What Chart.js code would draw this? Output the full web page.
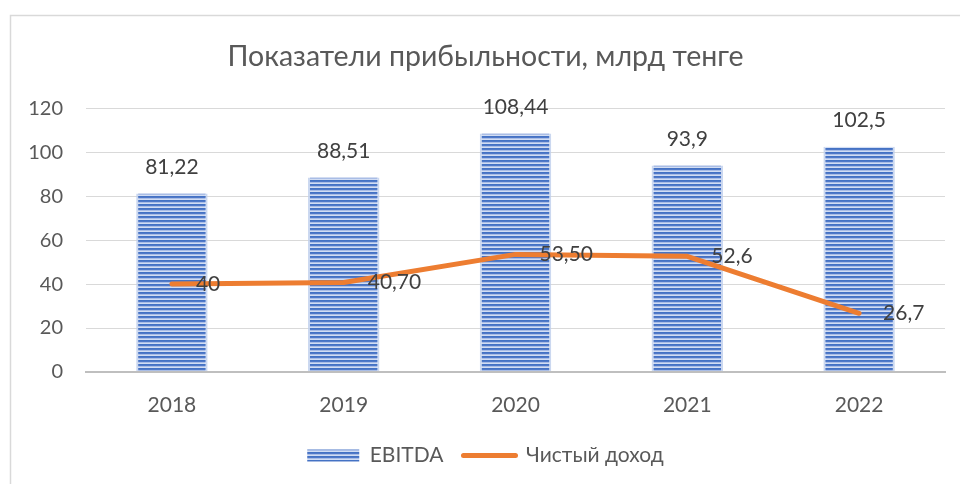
<!DOCTYPE html>
<html>
<head>
<meta charset="utf-8">
<script src="https://cdn.jsdelivr.net/npm/chart.js@4/dist/chart.umd.min.js"></script>
<style>
  html, body { margin: 0; padding: 0; background: #fff; }
  #wrap { width: 960px; height: 484px; position: relative; }
</style>
</head>
<body>
<div id="wrap"><canvas id="myChart"></canvas></div>
<script>
'use strict';

const years = ['2018', '2019', '2020', '2021', '2022'];
const ebitda = [81.22, 88.51, 108.44, 93.9, 102.5];
const ebitdaDigits = [2, 2, 2, 1, 1];
const netIncome = [40, 40.7, 53.5, 52.6, 26.7];
const netDigits = [0, 2, 2, 1, 1];
const yTicks = [0, 20, 40, 60, 80, 100, 120];

const FONT = 'Lato, "Noto Sans", sans-serif';
const ORANGE = '#ed7d31';

// horizontal stripes for the EBITDA bars
const makeStripes = () => {
	const c = document.createElement('canvas');
	c.width = 4;
	c.height = 4;
	const g = c.getContext('2d');
	['#4472c4', '#5079c8', '#a9bde6', '#d2ddf3'].forEach((col, i) => {
		g.fillStyle = col;
		g.fillRect(0, i, 4, 1);
	});
	return g.createPattern(c, 'repeat');
};
const stripes = makeStripes();

const fmt = (v, d) => v.toFixed(d).replace('.', ',');

// light frame around the whole chart + white background
const framePlugin = {
	id: 'frame',
	beforeDraw(chart) {
		const { ctx, width, height } = chart;
		ctx.save();
		ctx.fillStyle = '#fff';
		ctx.fillRect(0, 0, width, height);
		ctx.strokeStyle = '#d9d9d9';
		ctx.lineWidth = 1.5;
		ctx.strokeRect(10.5, 15.5, width + 20, height + 20);
		ctx.restore();
	},
};

// value labels: above the bars, right of the line points
const valueLabels = {
	id: 'valueLabels',
	afterDatasetsDraw(chart) {
		const { ctx } = chart;
		ctx.save();
		ctx.font = '21px ' + FONT;
		ctx.fillStyle = '#404040';
		ctx.textBaseline = 'middle';
		chart.data.datasets.forEach((ds, i) => {
			const meta = chart.getDatasetMeta(i);
			meta.data.forEach((el, j) => {
				const txt = fmt(ds.data[j], ds.digits[j]);
				if (ds.type === 'bar') {
					ctx.textAlign = 'center';
					ctx.fillText(txt, el.x, el.y - 26);
				} else {
					ctx.textAlign = 'left';
					ctx.fillText(txt, el.x + 24, el.y);
				}
			});
		});
		ctx.restore();
	},
};

const ctx = document.getElementById('myChart').getContext('2d');

const myChart = new Chart(ctx, {
	data: {
		labels: years,
		datasets: [
			{
				type: 'line',
				label: 'Чистый доход',
				data: netIncome,
				digits: netDigits,
				borderColor: ORANGE,
				backgroundColor: ORANGE,
				borderWidth: 5,
				borderCapStyle: 'round',
				borderJoinStyle: 'round',
				pointRadius: 0,
				tension: 0,
				order: 0,
			},
			{
				type: 'bar',
				label: 'EBITDA',
				data: ebitda,
				digits: ebitdaDigits,
				backgroundColor: stripes,
				borderColor: 'rgba(190, 206, 236, 0.8)',
				borderWidth: { left: 2, right: 2, top: 0, bottom: 0 },
				borderSkipped: false,
				categoryPercentage: 0.8,
				barPercentage: 0.52,
				order: 1,
			},
		],
	},
	options: {
		responsive: true,
		maintainAspectRatio: false,
		animation: false,
		layout: {
			padding: { left: 26, right: 15, top: 30, bottom: 8 },
		},
		plugins: {
			title: {
				display: true,
				text: 'Показатели прибыльности, млрд тенге',
				color: '#595959',
				font: { family: FONT, size: 28.5, weight: 'normal' },
				padding: { top: 10, bottom: 34 },
			},
			legend: {
				position: 'bottom',
				labels: {
					usePointStyle: true,
					pointStyleWidth: 52,
					boxHeight: 12,
					padding: 20,
					color: '#595959',
					font: { family: FONT, size: 21 },
					sort: (a, b) => b.datasetIndex - a.datasetIndex,
					generateLabels(chart) {
						return chart.data.datasets.map((ds, i) => ({
							text: ds.label,
							datasetIndex: i,
							fillStyle: ds.type === 'bar' ? stripes : ORANGE,
							strokeStyle: ds.type === 'bar' ? stripes : ORANGE,
							lineWidth: ds.type === 'bar' ? 0 : 5,
							lineCap: 'round',
							pointStyle: ds.type === 'bar' ? 'rect' : 'line',
							fontColor: '#595959',
							hidden: false,
						}));
					},
				},
			},
			tooltip: { enabled: false },
		},
		scales: {
			x: {
				afterFit(scale) {
					scale.height = 53;
				},
				grid: { display: false, drawTicks: false },
				border: { color: '#bfbfbf', width: 2 },
				ticks: {
					color: '#595959',
					font: { family: FONT, size: 21 },
					padding: 21,
				},
			},
			y: {
				min: 0,
				max: 120,
				afterBuildTicks(scale) {
					scale.ticks = yTicks.map((v) => ({ value: v }));
				},
				afterFit(scale) {
					scale.width = 60;
				},
				grid: {
					drawTicks: false,
					color: (c) => (c.tick && c.tick.value === 0 ? '#bfbfbf' : '#d9d9d9'),
					lineWidth: (c) => (c.tick && c.tick.value === 0 ? 2 : 1),
				},
				border: { display: false },
				ticks: {
					color: '#595959',
					font: { family: FONT, size: 20 },
					padding: 23,
				},
			},
		},
	},
	plugins: [framePlugin, valueLabels],
});
</script>
</body>
</html>
